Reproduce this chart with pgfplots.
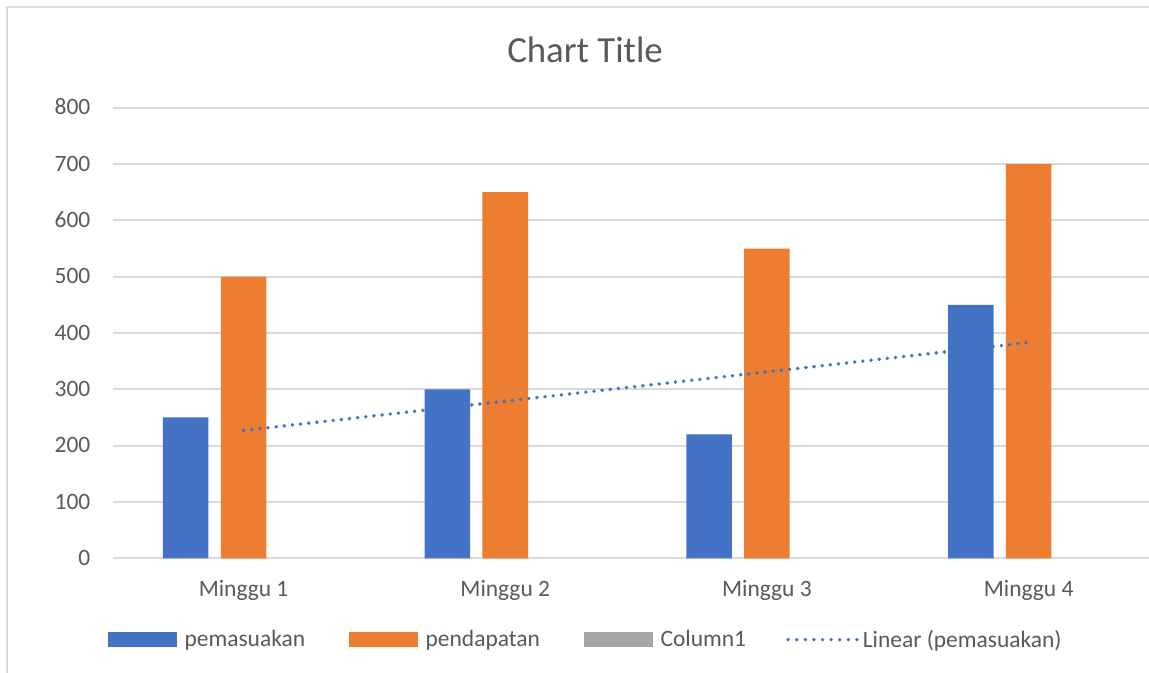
\documentclass[border=0pt]{standalone}
\usepackage{pgfplots}
\pgfplotsset{compat=1.18}
\usepackage{fontspec}
\setmainfont{Carlito}
\definecolor{xblue}{HTML}{4472C4}
\definecolor{xorange}{HTML}{ED7D31}
\definecolor{xgray}{HTML}{A5A5A5}
\definecolor{xtext}{HTML}{595959}
\definecolor{xgrid}{HTML}{D9D9D9}
\begin{document}
\begin{tikzpicture}
\useasboundingbox (0,0) rectangle (861.75pt,504.75pt);
\fill[white] (0,0) rectangle (861.75pt,504.75pt);
\draw[xgrid, line width=1.5pt] (5.25pt,0) -- (5.25pt,499.5pt) -- (861.75pt,499.5pt);
\begin{axis}[
  at={(84.53pt,86.03pt)}, anchor=south west,
  scale only axis, width=777.25pt, height=337.95pt,
  xmin=0.5, xmax=4.46, ymin=0, ymax=800,
  xtick={1,2,3,4}, xticklabels={Minggu 1,Minggu 2,Minggu 3,Minggu 4},
  ytick={0,100,...,800},
  ymajorgrids, grid style={xgrid, line width=1.3pt},
  axis line style={draw=none},
  major tick length=0pt,
  /pgf/number format/assume math mode=true,
  tick label style={font=\fontsize{17.6pt}{20pt}\selectfont, text=xtext, inner sep=0pt},
  yticklabel style={anchor=base east, xshift=-16.6pt, yshift=-5.3pt},
  xticklabel style={anchor=base, yshift=-28.8pt},
  title={Chart Title},
  title style={at={(0.4558,1.0815)}, anchor=base, inner sep=0pt,
    font=\fontsize{27.6pt}{32pt}\selectfont, text=xtext},
  legend style={at={(-0.0048,-0.1806)}, anchor=west, draw=none, inner sep=0pt,
    font=\fontsize{17.6pt}{20pt}\selectfont, text=xtext,
    nodes={inner sep=0pt},
    /tikz/every odd column/.append style={column sep=6pt},
    /tikz/every even column/.append style={column sep=33pt}},
  legend columns=4,
  legend cell align=left,
]
\addplot[ybar, bar width=0.174, bar shift=0, fill=xorange, draw=none, forget plot]
  coordinates {(1,500) (2,650) (3,550) (4,700)};
\addplot[xblue, line width=2.9pt, line cap=round, dash pattern=on 0pt off 6.15pt, forget plot]
  coordinates {(1,227) (4,383)};
\addplot[ybar, bar width=0.174, bar shift=-0.221, fill=xblue, draw=none, forget plot]
  coordinates {(1,250) (2,300) (3,220) (4,450)};

\addlegendimage{legend image code/.code={\fill[xblue] (0pt,-5.25pt) rectangle (51pt,5.25pt);}}
\addlegendentry{pemasuakan}
\addlegendimage{legend image code/.code={\fill[xorange] (0pt,-5.25pt) rectangle (51pt,5.25pt);}}
\addlegendentry{pendapatan}
\addlegendimage{legend image code/.code={\fill[xgray] (0pt,-5.25pt) rectangle (51pt,5.25pt);}}
\addlegendentry{Column1}
\addlegendimage{legend image code/.code={\path[draw=none, fill=none] (1.5pt,-5.25pt) rectangle (50pt,5.25pt); \draw[overlay, xblue, line width=2.8pt, line cap=round, dash pattern=on 0pt off 6.45pt] (0pt,0) -- (51.7pt,0);}}
\addlegendentry{Linear (pemasuakan)}
\end{axis}
\end{tikzpicture}
\end{document}
